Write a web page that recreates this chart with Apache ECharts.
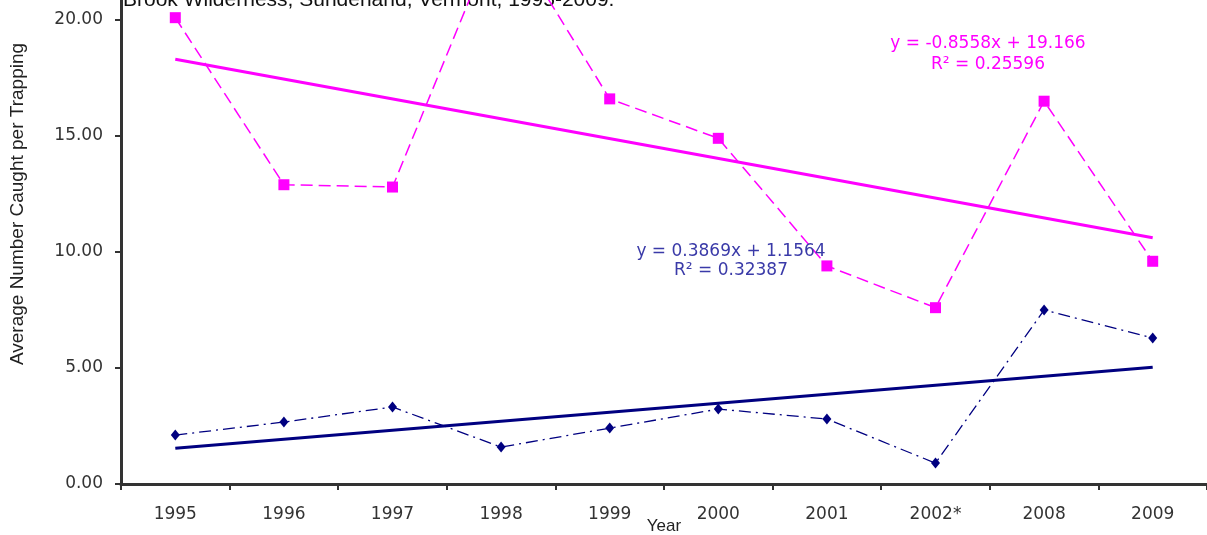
<!DOCTYPE html>
<html>
<head>
<meta charset="utf-8">
<script src="https://cdn.jsdelivr.net/npm/echarts@6/dist/echarts.min.js"></script>
<style>
html,body{margin:0;padding:0;background:#fff;}
#c{width:1207px;height:535px;}
</style>
</head>
<body>
<div id="c"></div>
<script>
const categories = ['1995','1996','1997','1998','1999','2000','2001','2002*','2008','2009'];
const pinkValues = [20.1, 12.9, 12.8, 24.2, 16.6, 14.9, 9.4, 7.6, 16.5, 9.6];
const blueValues = [2.11, 2.67, 3.32, 1.59, 2.41, 3.23, 2.8, 0.9, 7.5, 6.29];
const pinkTrendEnds = [18.31, 10.61];
const blueTrendEnds = [1.54, 5.03];
const yTicks = [0, 5, 10, 15, 20, 25];
const titleText = 'Brook Wilderness, Sunderland, Vermont, 1995-2009.';
const yName = 'Average Number Caught per Trapping';
const xName = 'Year';
const pinkEq = ['y = -0.8558x + 19.166', 'R\u00b2 = 0.25596'];
const blueEq = ['y = 0.3869x + 1.1564', 'R\u00b2 = 0.32387'];

const PINK = '#ff00ff';
const NAVY = '#000080';
const EQBLUE = '#3a3aa8';
const lastIdx = categories.length - 1;

const chart = echarts.init(document.getElementById('c'), null, {renderer: 'canvas'});
chart.setOption({
  animation: false,
  backgroundColor: '#ffffff',
  grid: {left: 121, right: 0, top: -96, bottom: 51, containLabel: false, outerBoundsMode: 'none'},
  xAxis: {
    type: 'category',
    data: categories,
    boundaryGap: true,
    name: xName,
    nameLocation: 'middle',
    nameGap: 34,
    nameMoveOverlap: false,
    nameTextStyle: {fontFamily: 'Liberation Sans', fontSize: 17, color: '#222'},
    axisLine: {show: true, lineStyle: {color: '#333', width: 3}},
    axisTick: {show: true, alignWithLabel: false, length: 6, lineStyle: {color: '#333', width: 2}},
    axisLabel: {fontFamily: 'DejaVu Sans', fontSize: 17, color: '#333', margin: 22, interval: 0},
    splitLine: {show: false}
  },
  yAxis: {
    type: 'value',
    min: yTicks[0],
    max: yTicks[yTicks.length - 1],
    interval: 5,
    axisLine: {show: true, lineStyle: {color: '#333', width: 3}},
    axisTick: {show: true, length: 6, lineStyle: {color: '#333', width: 2}},
    axisLabel: {fontFamily: 'DejaVu Sans', fontSize: 17, color: '#333', margin: 18,
      formatter: v => v.toFixed(2)},
    splitLine: {show: false}
  },
  graphic: [
    {type: 'text', x: 123, y: 11, z: -1,
      style: {text: titleText, fontFamily: 'Liberation Sans', fontSize: 21, fill: '#111', verticalAlign: 'bottom'}},
    {type: 'text', x: 18, y: 204, rotation: Math.PI / 2, z: 10,
      style: {text: yName, fontFamily: 'Liberation Sans', fontSize: 19, fill: '#222',
        align: 'center', verticalAlign: 'middle'}},
    {type: 'text', x: 988, y: 44, z: 10,
      style: {text: pinkEq[0], fontFamily: 'DejaVu Sans', fontSize: 17, fill: PINK, align: 'center', verticalAlign: 'middle'}},
    {type: 'text', x: 988, y: 65, z: 10,
      style: {text: pinkEq[1], fontFamily: 'DejaVu Sans', fontSize: 17, fill: PINK, align: 'center', verticalAlign: 'middle'}},
    {type: 'text', x: 731, y: 252, z: 10,
      style: {text: blueEq[0], fontFamily: 'DejaVu Sans', fontSize: 17, fill: EQBLUE, align: 'center', verticalAlign: 'middle'}},
    {type: 'text', x: 731, y: 271, z: 10,
      style: {text: blueEq[1], fontFamily: 'DejaVu Sans', fontSize: 17, fill: EQBLUE, align: 'center', verticalAlign: 'middle'}}
  ],
  series: [
    {
      type: 'line', name: 'pink', data: pinkValues, clip: false,
      symbol: 'rect', symbolSize: 11,
      itemStyle: {color: PINK},
      lineStyle: {color: PINK, width: 1.5, type: [12, 6]},
      z: 3
    },
    {
      type: 'line', name: 'blue', data: blueValues, clip: false,
      symbol: 'diamond', symbolSize: [9, 11],
      itemStyle: {color: NAVY},
      lineStyle: {color: NAVY, width: 1.3, type: [12, 5, 2, 5]},
      z: 3
    },
    {
      type: 'line', name: 'pinkTrend', symbol: 'none',
      data: [[0, pinkTrendEnds[0]], [lastIdx, pinkTrendEnds[1]]],
      lineStyle: {color: PINK, width: 3}, z: 2
    },
    {
      type: 'line', name: 'blueTrend', symbol: 'none',
      data: [[0, blueTrendEnds[0]], [lastIdx, blueTrendEnds[1]]],
      lineStyle: {color: NAVY, width: 3}, z: 2
    }
  ]
});
</script>
</body>
</html>
